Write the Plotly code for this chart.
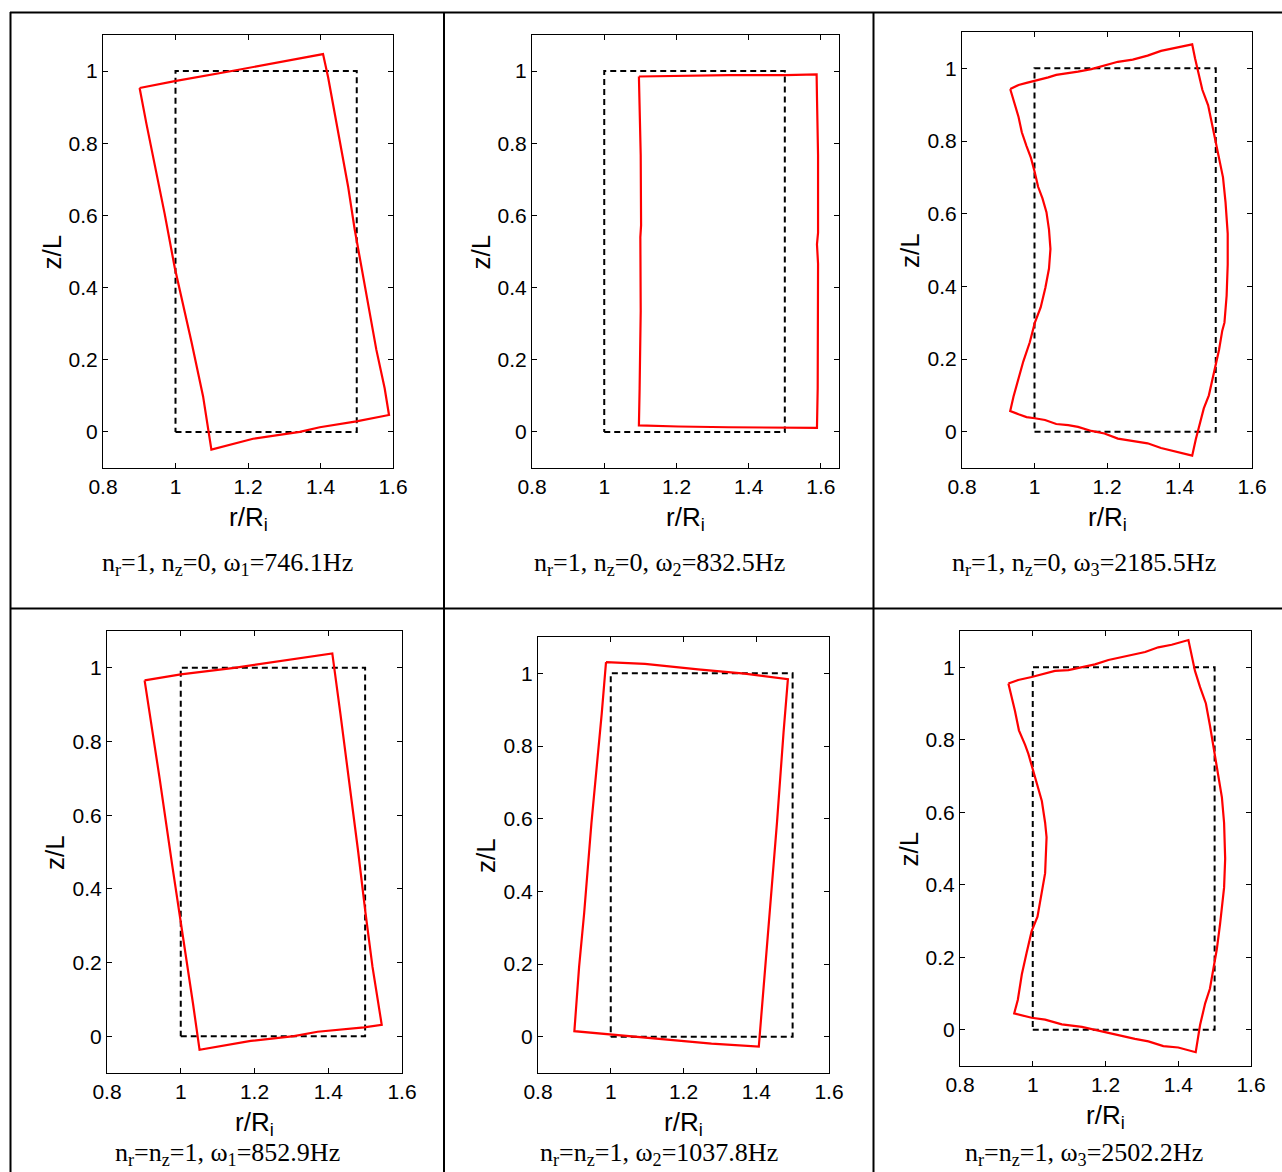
import plotly.graph_objects as go

W, H = 1282, 1172

# ---------------- data ----------------
rect_r = [1.0, 1.5, 1.5, 1.0, 1.0]
rect_z = [0.0, 0.0, 1.0, 1.0, 0.0]

# panel 1: n_r=1, n_z=0, omega1
p1_r = [0.901, 0.998, 1.159, 1.306, 1.407, 1.421, 1.444, 1.476, 1.494, 1.526, 1.554, 1.577, 1.589,
        1.499, 1.398, 1.343, 1.214, 1.099, 1.076, 1.044, 1.016, 0.998, 0.970, 0.943, 0.920, 0.901]
p1_z = [0.953, 0.972, 1.001, 1.028, 1.047, 0.983, 0.853, 0.681, 0.563, 0.390, 0.228, 0.121, 0.047,
        0.029, 0.013, 0.000, -0.019, -0.049, 0.099, 0.250, 0.379, 0.455, 0.605, 0.734, 0.853, 0.953]

# panel 2: n_r=1, n_z=0, omega2
p2_r = [1.096, 1.205, 1.344, 1.501, 1.588, 1.589, 1.592, 1.592, 1.589, 1.592, 1.592, 1.591, 1.589,
        1.501, 1.344, 1.205, 1.096, 1.098, 1.101, 1.100, 1.102, 1.101, 1.096]
p2_z = [0.985, 0.987, 0.989, 0.989, 0.991, 0.929, 0.767, 0.552, 0.520, 0.466, 0.336, 0.121, 0.011,
        0.011, 0.013, 0.015, 0.018, 0.121, 0.336, 0.540, 0.573, 0.767, 0.985]

# panel 3: n_r=1, n_z=0, omega3
p3_r = [0.933, 0.956, 0.978, 1.000, 1.019, 1.038, 1.060, 1.093, 1.120, 1.157, 1.193, 1.230, 1.271,
        1.312, 1.349, 1.385, 1.435,
        1.443, 1.450, 1.463, 1.479, 1.495, 1.509, 1.520, 1.527, 1.533, 1.533, 1.530, 1.524, 1.518,
        1.509, 1.495, 1.481, 1.467, 1.458, 1.445, 1.435,
        1.385, 1.349, 1.312, 1.271, 1.230, 1.193, 1.157, 1.120, 1.093, 1.060, 1.029, 1.001, 0.978,
        0.956, 0.933,
        0.942, 0.956, 0.969, 0.987, 1.001, 1.017, 1.030, 1.040, 1.044, 1.040, 1.033, 1.022, 1.010,
        1.000, 0.990, 0.978, 0.965, 0.956, 0.942, 0.933]
p3_z = [0.943, 0.954, 0.960, 0.965, 0.969, 0.975, 0.982, 0.986, 0.991, 0.998, 1.007, 1.018, 1.024,
        1.035, 1.048, 1.056, 1.066,
        1.027, 0.995, 0.941, 0.898, 0.824, 0.759, 0.700, 0.631, 0.545, 0.460, 0.374, 0.300, 0.278,
        0.225, 0.160, 0.100, 0.064, 0.032, -0.021, -0.066,
        -0.053, -0.045, -0.032, -0.025, -0.019, -0.005, 0.002, 0.013, 0.018, 0.021, 0.032, 0.037, 0.040,
        0.048, 0.057,
        0.096, 0.150, 0.193, 0.246, 0.300, 0.342, 0.396, 0.449, 0.503, 0.556, 0.604, 0.642, 0.674,
        0.717, 0.754, 0.786, 0.824, 0.866, 0.909, 0.943]

# panel 4: n_r=n_z=1, omega1
p4_r = [0.902, 1.000, 1.145, 1.280, 1.411, 1.433, 1.456, 1.481, 1.501, 1.520, 1.545,
        1.497, 1.371, 1.307, 1.190, 1.051, 1.033, 1.000, 0.977, 0.943, 0.917, 0.902]
p4_z = [0.966, 0.982, 1.000, 1.020, 1.039, 0.875, 0.698, 0.502, 0.335, 0.188, 0.031,
        0.024, 0.012, 0.000, -0.013, -0.037, 0.090, 0.306, 0.463, 0.698, 0.875, 0.966]

# panel 5: n_r=n_z=1, omega2
p5_r = [0.987, 1.094, 1.240, 1.368, 1.487, 1.475, 1.457, 1.445, 1.433, 1.421, 1.407,
        1.277, 1.140, 1.000, 0.900, 0.913, 0.927, 0.947, 0.966, 0.975, 0.987]
p5_z = [1.031, 1.026, 1.011, 0.999, 0.984, 0.837, 0.589, 0.440, 0.291, 0.142, -0.027,
        -0.019, -0.007, 0.005, 0.015, 0.192, 0.341, 0.589, 0.788, 0.887, 1.031]

# panel 6: n_r=n_z=1, omega3
p6_r = [0.933, 0.960, 0.997, 1.025, 1.061, 1.098, 1.135, 1.171, 1.208, 1.245, 1.281, 1.309, 1.345,
        1.382, 1.428,
        1.437, 1.446, 1.460, 1.476, 1.487, 1.497, 1.510, 1.520, 1.526, 1.529, 1.526, 1.521, 1.515,
        1.506, 1.497, 1.487, 1.474, 1.460, 1.448,
        1.400, 1.359, 1.318, 1.281, 1.245, 1.208, 1.171, 1.135, 1.080, 1.034, 0.997, 0.949,
        0.959, 0.970, 0.983, 0.997, 1.013, 1.023, 1.034, 1.038, 1.034, 1.025, 1.014, 0.997, 0.988,
        0.979, 0.962, 0.951, 0.933]
p6_z = [0.955, 0.965, 0.973, 0.980, 0.990, 0.992, 1.000, 1.008, 1.020, 1.028, 1.035, 1.042, 1.055,
        1.062, 1.075,
        1.030, 0.990, 0.945, 0.900, 0.840, 0.780, 0.711, 0.641, 0.571, 0.472, 0.392, 0.342, 0.292,
        0.222, 0.172, 0.113, 0.073, 0.013, -0.062,
        -0.049, -0.045, -0.032, -0.025, -0.017, -0.010, 0.000, 0.008, 0.015, 0.028, 0.033, 0.045,
        0.083, 0.153, 0.212, 0.272, 0.312, 0.372, 0.432, 0.531, 0.571, 0.631, 0.671, 0.731, 0.761,
        0.786, 0.826, 0.880, 0.955]

captions = [
    "n<sub>r</sub>=1, n<sub>z</sub>=0, ω<sub>1</sub>=746.1Hz",
    "n<sub>r</sub>=1, n<sub>z</sub>=0, ω<sub>2</sub>=832.5Hz",
    "n<sub>r</sub>=1, n<sub>z</sub>=0, ω<sub>3</sub>=2185.5Hz",
    "n<sub>r</sub>=n<sub>z</sub>=1, ω<sub>1</sub>=852.9Hz",
    "n<sub>r</sub>=n<sub>z</sub>=1, ω<sub>2</sub>=1037.8Hz",
    "n<sub>r</sub>=n<sub>z</sub>=1, ω<sub>3</sub>=2502.2Hz",
]
x_ticks = [0.8, 1.0, 1.2, 1.4, 1.6]
x_tick_text = ["0.8", "1", "1.2", "1.4", "1.6"]
y_ticks = [0.0, 0.2, 0.4, 0.6, 0.8, 1.0]
y_tick_text = ["0", "0.2", "0.4", "0.6", "0.8", "1"]
x_title = "r/R<sub>i</sub>"
y_title = "z/L"

mode_r = [p1_r, p2_r, p3_r, p4_r, p5_r, p6_r]
mode_z = [p1_z, p2_z, p3_z, p4_z, p5_z, p6_z]
x_max = [1.6, 1.65, 1.6, 1.6, 1.6, 1.6]

# ---------------- layout (pixel boxes) ----------------
# (left, right, top, bottom) of each axes box in px
boxes = [(103, 393, 35, 468), (532, 839, 35, 468), (962, 1252, 32, 468),
         (107, 402, 631, 1073), (538, 829, 637, 1073), (960, 1251, 631, 1066)]
cell_centers = [227, 659, 1084]
caption_y = [564, 564, 564, 1154, 1154, 1154]

def px(x):
    return x / W

def py(y):
    return 1 - y / H

fig = go.Figure()
annotations = []
tick_font = dict(family="Liberation Sans, Arial, sans-serif", size=21, color="black")
title_font = dict(family="Liberation Sans, Arial, sans-serif", size=26, color="black")
cap_font = dict(family="Liberation Serif, Times New Roman, serif", size=26, color="black")

for i in range(6):
    xa = "x" if i == 0 else f"x{i+1}"
    ya = "y" if i == 0 else f"y{i+1}"
    fig.add_trace(go.Scatter(x=rect_r, y=rect_z, mode="lines", xaxis=xa, yaxis=ya,
                             line=dict(color="black", width=2, dash="6px,4px"),
                             showlegend=False, hoverinfo="skip"))
    fig.add_trace(go.Scatter(x=mode_r[i], y=mode_z[i], mode="lines", xaxis=xa, yaxis=ya,
                             line=dict(color="#ff0000", width=2.2),
                             showlegend=False))
    l, r, t, b = boxes[i]
    xkey = "xaxis" if i == 0 else f"xaxis{i+1}"
    ykey = "yaxis" if i == 0 else f"yaxis{i+1}"
    common = dict(showline=True, linecolor="black", linewidth=1, mirror="ticks",
                  ticks="inside", ticklen=5, tickcolor="black", tickwidth=1,
                  showgrid=False, zeroline=False, tickfont=tick_font, fixedrange=True,
                  automargin=False)
    fig.update_layout(**{
        xkey: dict(domain=[px(l), px(r)], range=[0.8, x_max[i]], anchor=ya,
                   tickvals=x_ticks, ticktext=x_tick_text, **common),
        ykey: dict(domain=[py(b), py(t)], range=[-0.1, 1.1], anchor=xa,
                   tickvals=y_ticks, ticktext=y_tick_text, **common),
    })
    cx = (l + r) / 2
    # axis titles
    annotations.append(dict(x=px(l - 52), y=py((t + b) / 2 + 1), xref="paper", yref="paper",
                            text=y_title, textangle=-90, showarrow=False,
                            font=title_font, xanchor="center", yanchor="middle"))
    annotations.append(dict(x=px(cx), y=py(b + 50), xref="paper", yref="paper",
                            text=x_title, showarrow=False, font=title_font,
                            xanchor="center", yanchor="middle"))
    annotations.append(dict(x=px(cell_centers[i % 3]), y=py(caption_y[i]), xref="paper",
                            yref="paper", text=captions[i], showarrow=False, font=cap_font,
                            xanchor="center", yanchor="middle"))

# table frame lines
line_style = dict(color="black", width=2)
shapes = [
    dict(type="line", xref="paper", yref="paper", x0=px(10), x1=1, y0=py(12.5), y1=py(12.5), line=line_style),
    dict(type="line", xref="paper", yref="paper", x0=px(10), x1=1, y0=py(608.5), y1=py(608.5), line=line_style),
    dict(type="line", xref="paper", yref="paper", x0=px(10.5), x1=px(10.5), y0=0, y1=py(12), line=line_style),
    dict(type="line", xref="paper", yref="paper", x0=px(444), x1=px(444), y0=0, y1=py(12), line=line_style),
    dict(type="line", xref="paper", yref="paper", x0=px(873.5), x1=px(873.5), y0=0, y1=py(12), line=line_style),
]

fig.update_layout(width=W, height=H, margin=dict(l=0, r=0, t=0, b=0, autoexpand=False),
                  template="none",
                  paper_bgcolor="white", plot_bgcolor="white",
                  annotations=annotations, shapes=shapes, showlegend=False)

fig.write_html("out.html")
